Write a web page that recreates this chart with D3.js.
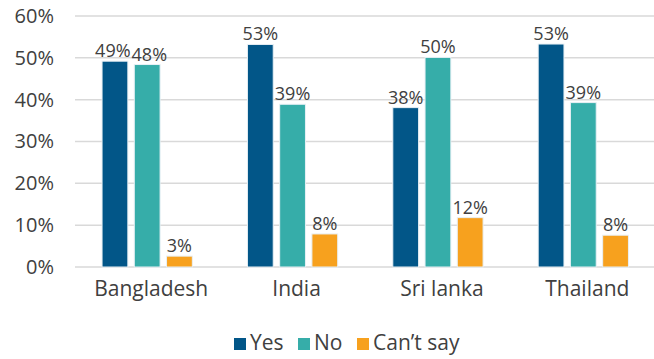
<!DOCTYPE html>
<html>
<head>
<meta charset="utf-8">
<script src="https://cdn.jsdelivr.net/npm/d3@7"></script>
<style>
  html, body { margin: 0; padding: 0; background: #fff; }
  svg { display: block; font-family: "Open Sans", sans-serif; }
</style>
</head>
<body>
<svg id="chart" width="654" height="359"></svg>
<script>
const categories = ["Bangladesh", "India", "Sri lanka", "Thailand"];
const seriesNames = ["Yes", "No", "Can\u2019t say"];
const yesValues = [0.492, 0.532, 0.381, 0.533];
const noValues = [0.484, 0.389, 0.501, 0.393];
const cantSayValues = [0.026, 0.079, 0.118, 0.076];
const yTicks = [0, 0.1, 0.2, 0.3, 0.4, 0.5, 0.6];
const colors = ["#025688", "#36ADA9", "#F7A11E"];

const seriesValues = [yesValues, noValues, cantSayValues];
const svg = d3.select("#chart");
const textColor = "#404040";

const x0 = d3.scaleBand().domain(categories).range([74.5, 656])
  .paddingInner(0.379).paddingOuter(0.1895);
const x1 = d3.scaleBand().domain(seriesNames).range([0, x0.bandwidth()])
  .paddingInner(0.2).paddingOuter(0);
const y = d3.scaleLinear().domain([0, 0.6]).range([267, 16]);
const color = d3.scaleOrdinal().domain(seriesNames).range(colors);
const fmt = d3.format(".0%");

// gridlines
svg.append("g").selectAll("line").data(yTicks).join("line")
  .attr("x1", 75).attr("x2", 654)
  .attr("y1", d => y(d)).attr("y2", d => y(d))
  .attr("stroke", "#D9D9D9").attr("stroke-width", 1.5);

// y axis
const yAxis = svg.append("g").attr("transform", "translate(54,0)")
  .call(d3.axisLeft(y).tickValues(yTicks).tickFormat(fmt).tickSize(0).tickPadding(0));
yAxis.select(".domain").remove();
yAxis.selectAll("text").attr("font-size", 20).attr("fill", textColor)
  .attr("font-family", "Open Sans, sans-serif");

// x axis
const xAxis = svg.append("g").attr("transform", "translate(4,281)")
  .call(d3.axisBottom(x0).tickSize(0).tickPadding(0));
xAxis.select(".domain").remove();
xAxis.selectAll("text").attr("font-size", 21).attr("fill", textColor)
  .attr("font-family", "Open Sans, sans-serif");

// bars
const rows = categories.map((c, i) => ({
  category: c,
  values: seriesNames.map((s, j) => ({ series: s, value: seriesValues[j][i] }))
}));

const groups = svg.append("g").selectAll("g").data(rows).join("g")
  .attr("transform", d => `translate(${x0(d.category)},0)`);

groups.selectAll("rect").data(d => d.values).join("rect")
  .attr("x", d => x1(d.series))
  .attr("y", d => y(d.value))
  .attr("width", x1.bandwidth())
  .attr("height", d => y(0) - y(d.value))
  .attr("fill", d => color(d.series))
  .attr("stroke", "#E8F0F5").attr("stroke-width", 1);

groups.each(function() {
  const labels = d3.select(this).selectAll("text.lbl").data(d => d.values).join("text")
    .attr("class", "lbl")
    .attr("x", d => x1(d.series) + x1.bandwidth() / 2)
    .attr("y", d => y(d.value) - 4)
    .attr("text-anchor", "middle")
    .attr("font-size", 18).attr("fill", textColor)
    .text(d => fmt(d.value));
  // nudge apart horizontally overlapping neighbouring labels
  const nodes = labels.nodes();
  for (let i = 0; i < nodes.length - 1; i++) {
    const a = nodes[i].getBBox(), b = nodes[i + 1].getBBox();
    const vOverlap = a.y < b.y + b.height && b.y < a.y + a.height;
    const hOverlap = a.x + a.width - b.x;
    if (vOverlap && hOverlap > -1) {
      const shift = (hOverlap + 1) / 2;
      nodes[i].setAttribute("x", +nodes[i].getAttribute("x") - shift);
      nodes[i + 1].setAttribute("x", +nodes[i + 1].getAttribute("x") + shift);
    }
  }
});

// legend
const legendX = [234, 298, 357];
const legend = svg.append("g").selectAll("g").data(seriesNames).join("g")
  .attr("transform", (d, i) => `translate(${legendX[i]},338)`);
legend.append("rect").attr("width", 12).attr("height", 12)
  .attr("fill", d => color(d));
legend.append("text").attr("x", 16).attr("y", 12)
  .attr("font-size", 21).attr("fill", textColor)
  .text(d => d);
</script>
</body>
</html>
